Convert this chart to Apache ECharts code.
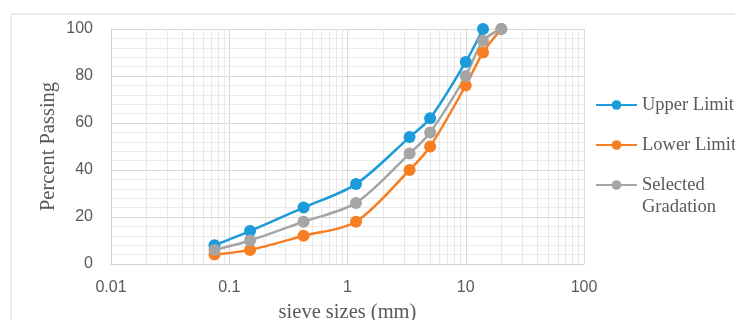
<!DOCTYPE html>
<html>
<head>
<meta charset="utf-8">
<script src="https://cdn.jsdelivr.net/npm/echarts@6/dist/echarts.min.js"></script>
<style>
    html, body { margin: 0; padding: 0; background: #fff; }
    #chart { width: 735px; height: 320px; }
</style>
</head>
<body>
<div id="chart"></div>
<script>
// sieve sizes in mm (x, log scale)
var sieveSizes = [0.075, 0.15, 0.425, 1.18, 3.35, 5, 10, 14, 20];
// percent passing
var upperLimit = [8, 14, 24, 34, 54, 62, 86, 100];
var lowerLimit = [4, 6, 12, 18, 40, 50, 76, 90, 100];
var selectedGradation = [6, 10, 18, 26, 47, 56, 80, 95, 100];
var seriesNames = ['Upper Limit', 'Lower Limit', 'Selected Gradation'];
var xTicks = [0.01, 0.1, 1, 10, 100];
var yTicks = [0, 20, 40, 60, 80, 100];

// minor log gridlines 2..9 of every decade
var decades = [0.01, 0.1, 1, 10];
var minorSteps = [2, 3, 4, 5, 6, 7, 8, 9];
var minorX = [];
decades.forEach(function (d) {
    minorSteps.forEach(function (m) { minorX.push({xAxis: +(d * m).toPrecision(3)}); });
});

function pairs(vals) {
    return vals.map(function (v, i) { return [sieveSizes[i], v]; });
}

var colors = ['#1b9bd7', '#f77e22', '#a5a5a5'];
var labelFont = {color: '#595959', fontSize: 16, fontFamily: 'Liberation Sans'};
var serifFont = 'Liberation Serif';
var legendText = {color: '#595959', fontSize: 18.5, fontFamily: serifFont, lineHeight: 22};

var chart = echarts.init(document.getElementById('chart'));

function lineSeries(name, vals, color) {
    return {
        name: name,
        type: 'line',
        data: pairs(vals),
        smooth: 0.3,
        symbol: 'circle',
        symbolSize: 12,
        z: 3,
        itemStyle: {color: color},
        lineStyle: {color: color, width: 2.5}
    };
}

chart.setOption({
    animation: false,
    graphic: [{
        type: 'rect',
        shape: {x: 11, y: 14, width: 800, height: 400},
        style: {fill: 'none', stroke: '#d9d9d9', lineWidth: 1},
        silent: true
    }],
    grid: {left: 111, top: 29, right: 151, bottom: 56, outerBoundsMode: 'none', containLabel: false},
    legend: [{
        orient: 'vertical',
        left: 595,
        top: 94,
        padding: 0,
        itemWidth: 41,
        itemHeight: 12,
        itemGap: 18,
        data: [seriesNames[0], seriesNames[1]],
        textStyle: legendText
    }, {
        // blank first line keeps the marker level with "Selected"
        orient: 'vertical',
        left: 595,
        top: 152,
        padding: 0,
        itemWidth: 41,
        itemHeight: 12,
        data: [seriesNames[2]],
        formatter: function (n) { return ' \n' + n.replace(' ', '\n'); },
        textStyle: legendText
    }],
    xAxis: {
        type: 'log',
        logBase: 10,
        min: xTicks[0],
        max: xTicks[xTicks.length - 1],
        name: 'sieve sizes (mm)',
        nameLocation: 'middle',
        nameGap: 38,
        nameMoveOverlap: false,
        nameTextStyle: {color: '#595959', fontSize: 20.5, fontFamily: serifFont},
        axisLine: {lineStyle: {color: '#d0d0d0'}},
        axisTick: {show: false},
        axisLabel: Object.assign({margin: 16}, labelFont),
        splitLine: {show: true, lineStyle: {color: '#d9d9d9'}}
    },
    yAxis: {
        type: 'value',
        min: yTicks[0],
        max: yTicks[yTicks.length - 1],
        interval: 20,
        name: 'Percent Passing',
        nameLocation: 'middle',
        nameGap: 52,
        nameMoveOverlap: false,
        nameTextStyle: {color: '#595959', fontSize: 20.5, fontFamily: serifFont},
        axisLine: {show: true, lineStyle: {color: '#d0d0d0'}},
        axisTick: {show: false},
        axisLabel: Object.assign({margin: 18}, labelFont),
        splitLine: {lineStyle: {color: '#d9d9d9'}},
        minorTick: {show: false, splitNumber: 5},
        minorSplitLine: {show: true, lineStyle: {color: '#ebebeb'}}
    },
    series: [
        {
            name: 'grid',
            type: 'line',
            data: [],
            silent: true,
            z: 1,
            markLine: {
                silent: true,
                z: 1,
                symbol: 'none',
                label: {show: false},
                lineStyle: {color: '#e8e8e8', width: 1, type: 'solid'},
                data: minorX
            }
        },
        lineSeries(seriesNames[0], upperLimit, colors[0]),
        lineSeries(seriesNames[1], lowerLimit, colors[1]),
        lineSeries(seriesNames[2], selectedGradation, colors[2])
    ]
});
</script>
</body>
</html>
